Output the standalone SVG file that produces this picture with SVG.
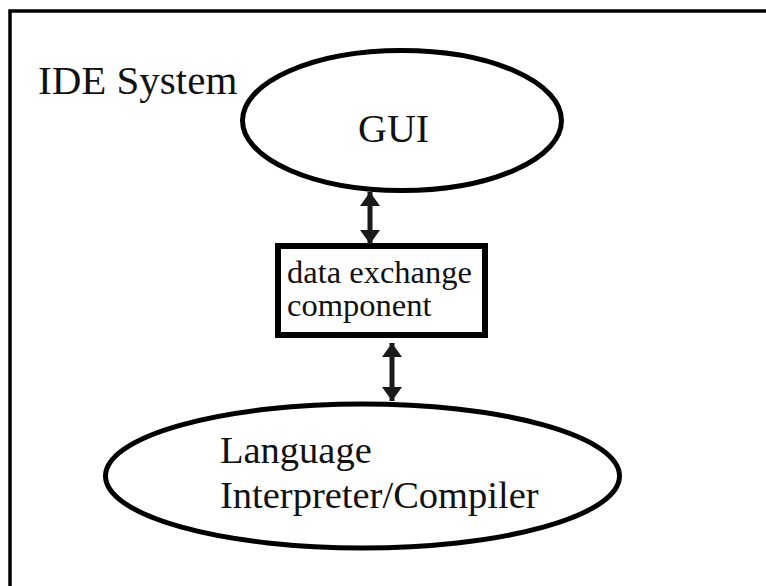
<svg xmlns="http://www.w3.org/2000/svg" width="766" height="586" viewBox="0 0 766 586">
  <style>
    .lbl { font-family: "Liberation Serif", "Times New Roman", serif; fill: #111; }
    .shape { fill: none; stroke: #000; }
    .conn { stroke: #1a1a1a; stroke-width: 5; fill: none; }
  </style>
  <defs>
    <marker id="head" viewBox="0 0 14 20" refX="14" refY="10" markerWidth="14" markerHeight="20" markerUnits="userSpaceOnUse" orient="auto-start-reverse">
      <path d="M0,0 L14,10 L0,20 z" fill="#1a1a1a"/>
    </marker>
  </defs>
  <rect width="766" height="586" fill="#fff"/>

  <!-- system frame: top and left edges -->
  <g id="frame">
    <path d="M10,586 V11 H766" class="shape" stroke-width="3.5"/>
    <text class="lbl" x="38" y="94" font-size="41">IDE System</text>
  </g>

  <g id="gui">
    <ellipse cx="402" cy="120.5" rx="159.5" ry="70" class="shape" stroke-width="5"/>
    <text class="lbl" x="358" y="142" font-size="40">GUI</text>
  </g>

  <g id="exchange">
    <rect x="278" y="246" width="207" height="89" class="shape" stroke-width="6"/>
    <text class="lbl" x="287" y="283" font-size="32.5">data exchange</text>
    <text class="lbl" x="287" y="316" font-size="32.5">component</text>
  </g>

  <g id="language">
    <ellipse cx="362.5" cy="476" rx="257" ry="72" class="shape" stroke-width="5"/>
    <text class="lbl" x="220" y="463" font-size="38.5">Language</text>
    <text class="lbl" x="220" y="508" font-size="38.5">Interpreter/Compiler</text>
  </g>

  <g id="connectors">
    <line x1="370" y1="192" x2="370" y2="244" class="conn" marker-start="url(#head)" marker-end="url(#head)"/>
    <line x1="392" y1="343" x2="392" y2="401" class="conn" marker-start="url(#head)" marker-end="url(#head)"/>
  </g>
</svg>
